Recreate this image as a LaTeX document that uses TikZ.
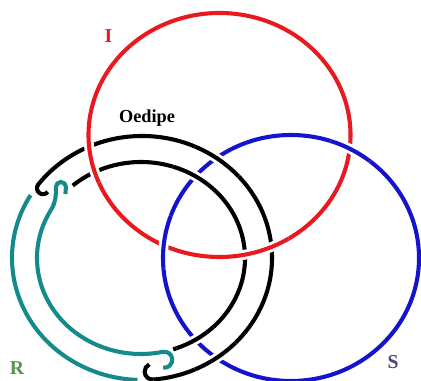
\documentclass[tikz,border=0pt]{standalone}
\usepackage{fontspec}
\setmainfont{Liberation Serif}
\usepackage{tikz}

\definecolor{imgred}{RGB}{232,26,32}
\definecolor{symblue}{RGB}{20,20,205}
\definecolor{realteal}{RGB}{20,138,138}
\definecolor{rgreen}{RGB}{80,150,80}
\definecolor{sgrey}{RGB}{70,70,120}

\begin{document}
\begin{tikzpicture}[x=0.025cm, y=0.025cm,
    ring/.style={line width=2.9pt},
    over/.style={preaction={draw=white, line width=7pt}},
    letter/.style={font=\fontsize{14}{14}\selectfont\bfseries, inner sep=0pt},
]
\useasboundingbox (0,0) rectangle (421,381);

% Ring centres
\coordinate (imag) at (219.5,246);
\coordinate (symb) at (291,123);
\coordinate (band) at (142,123);
\coordinate (bandin) at (141,123);

% Imaginary and Symbolic
\draw[ring, imgred] (imag) ellipse [x radius=131, y radius=122];
\draw[ring, symblue] (symb) ellipse [x radius=128, y radius=123];

% Real: left half of the band, hooked at both ends
\draw[ring, realteal] (band) ++(149:130 and 122)
    arc[start angle=149, end angle=268, x radius=130, y radius=122];
\draw[ring, realteal] (bandin) ++(150:104 and 96)
    arc[start angle=150, end angle=282, x radius=104, y radius=96]
    arc[start angle=102, delta angle=-200, radius=8];
\draw[ring, realteal] (bandin) ++(150:104 and 96) to[out=58, in=-90] ++(5,23)
    arc[start angle=180, end angle=0, radius=5] -- ++(-0.5,-7);

% Oedipe: right half of the band
\draw[ring] (band) ++(-85:130 and 122)
    arc[start angle=-85, end angle=143, x radius=130, y radius=122]
    arc[start angle=143, delta angle=180, radius=6];
\draw[ring] (band) ++(-85:130 and 122) arc[start angle=-85, delta angle=-160, radius=8];
\draw[ring] (bandin) ++(-72:104 and 96)
    arc[start angle=-72, end angle=131, x radius=104, y radius=96];

% Crossings: red over Oedipe, blue over red, Oedipe over blue
\foreach \a/\b in {180/203, -88/-58}
    \draw[ring, imgred, over] (imag) ++(\a:131 and 122)
        arc[start angle=\a, end angle=\b, x radius=131, y radius=122];
\foreach \a/\b in {52/72, 160/185}
    \draw[ring, symblue, over] (symb) ++(\a:128 and 123)
        arc[start angle=\a, end angle=\b, x radius=128, y radius=123];
\foreach \a/\b in {42/66, -66/-44}
    \draw[ring, over] (band) ++(\a:130 and 122)
        arc[start angle=\a, end angle=\b, x radius=130, y radius=122];
\foreach \a/\b in {46/72, -70/-46}
    \draw[ring, over] (bandin) ++(\a:104 and 96)
        arc[start angle=\a, end angle=\b, x radius=104, y radius=96];

% Labels
\node[letter, imgred] (ilbl) at (108.5,345) {I};
\node[font=\fontsize{13}{13}\selectfont\bfseries, inner sep=0pt] (oedipe) at (147,263) {Oedipe};
\node[letter, rgreen] (rlbl) at (17,13) {R};
\node[letter, sgrey] (slbl) at (393,19) {S};
\end{tikzpicture}
\end{document}
